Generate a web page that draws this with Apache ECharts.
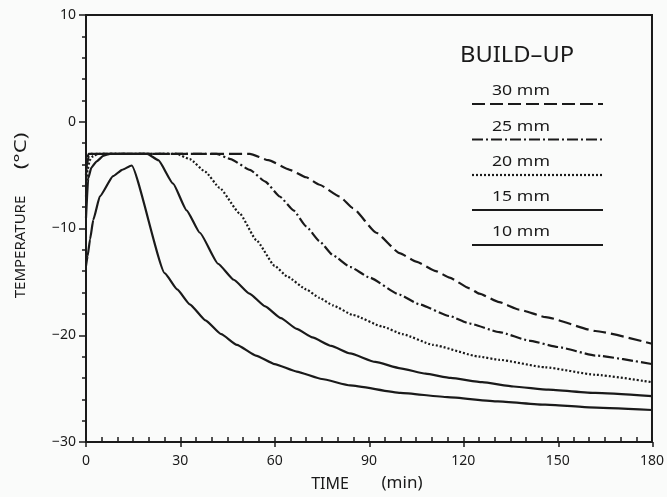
<!DOCTYPE html>
<html>
<head>
<meta charset="utf-8">
<script src="https://cdn.jsdelivr.net/npm/echarts@6/dist/echarts.min.js"></script>
<style>
  html, body { margin: 0; padding: 0; background: #fafbfa; }
  #chart { width: 667px; height: 497px; }
</style>
</head>
<body>
<div id="chart"></div>
<script>
// Temperature (°C) against time (min) for five ice build-up thicknesses.
const build30 = [[0,-5],[0.3,-3.5],[0.8,-3.0],[52.1,-3.0],[58,-3.6],[64.8,-4.5],[70,-5.2],[74.3,-5.9],[80.6,-7.0],[84.9,-8.1],[92.3,-10.4],[99.7,-12.3],[105,-13.1],[111.3,-14.0],[115.6,-14.6],[121.9,-15.6],[125.1,-16.1],[131.4,-16.9],[137.8,-17.6],[146.2,-18.3],[162,-19.6],[180,-20.8]];
const build25 = [[0,-6],[0.3,-4],[0.8,-3.3],[1.5,-3.0],[41.5,-3.0],[46,-3.5],[52.1,-4.5],[57,-5.6],[61.6,-7.0],[66,-8.3],[70,-9.8],[74.3,-11.2],[78.5,-12.5],[84,-13.6],[90.2,-14.6],[99.7,-16.2],[106,-17.1],[115.6,-18.2],[121.9,-18.9],[131.4,-19.7],[140.9,-20.5],[150,-21.1],[162,-21.9],[180,-22.7]];
const build20 = [[0,-7],[0.5,-4.5],[1.2,-3.6],[2.3,-3.2],[4,-3.0],[28.8,-3.0],[33,-3.5],[38,-4.7],[42.5,-6.2],[48.9,-8.6],[54.2,-11.1],[60,-13.5],[64,-14.5],[70,-15.7],[74.3,-16.5],[78.5,-17.2],[84.9,-18.1],[94.4,-19.2],[100.7,-19.9],[110.3,-20.9],[125,-22.0],[131.4,-22.3],[146,-23.0],[162,-23.7],[180,-24.4]];
const build15 = [[0,-9],[0.7,-5.3],[1.7,-4.3],[3.4,-3.7],[5.5,-3.2],[7.6,-3.0],[19.5,-3.0],[23,-3.6],[27.7,-5.8],[32,-8.3],[36.2,-10.4],[42,-13.3],[47,-14.8],[52,-16.1],[57,-17.3],[62,-18.4],[67,-19.4],[72,-20.2],[78,-21.0],[84,-21.7],[92,-22.5],[100,-23.1],[108,-23.6],[116,-24.0],[126,-24.4],[136,-24.8],[147,-25.1],[162,-25.4],[180,-25.7]];
const build10 = [[0,-13.5],[0.5,-12.6],[1.3,-11.0],[2.3,-9.2],[4.4,-7.0],[8.6,-5.1],[11.5,-4.5],[14.5,-4.1],[25.1,-14.2],[29,-15.7],[33,-17.1],[38,-18.6],[43,-19.9],[48,-20.9],[54,-21.9],[60,-22.7],[67,-23.4],[75,-24.1],[84,-24.7],[100,-25.4],[115,-25.8],[131,-26.2],[146,-26.5],[160,-26.75],[180,-27.0]];

const seriesNames = ['30 mm', '25 mm', '20 mm', '15 mm', '10 mm'];
const seriesData = [build30, build25, build20, build15, build10];

const INK = '#1a1a1a';
const FONT = 'Noto Sans';
const dashes = [[13, 5], [11, 3, 2, 3], [2, 2], null, null];

const chart = echarts.init(document.getElementById('chart'), null, { renderer: 'canvas' });

const gridRect = { left: 86, right: 14, top: 15, bottom: 55 };

const series = seriesData.map((d, i) => ({
  name: seriesNames[i],
  type: 'line',
  xAxisIndex: 0,
  yAxisIndex: 0,
  data: d,
  showSymbol: false,
  smooth: 0.15,
  smoothMonotone: 'x',
  lineStyle: { color: INK, width: 2.2, type: dashes[i] || 'solid' }
}));

// Legend block: title, then a caption above a line sample for each series
const legendX0 = 472, legendX1 = 603;
const legendLineY = [104, 139.5, 175, 210, 245];
const graphics = [
  { type: 'text', x: 460, y: 56, scaleX: 1.13,
    style: { text: 'BUILD–UP', font: '21px "' + FONT + '"', fill: INK, verticalAlign: 'middle' } }
];
seriesNames.forEach((n, i) => {
  graphics.push({ type: 'text', x: 492, y: legendLineY[i] - 13, scaleX: 1.18,
    style: { text: n, font: '15px "' + FONT + '"', fill: INK, verticalAlign: 'middle' } });
  graphics.push({ type: 'line', shape: { x1: legendX0, y1: legendLineY[i], x2: legendX1, y2: legendLineY[i] },
    style: { stroke: INK, lineWidth: 2.2, lineDash: dashes[i] || null } });
});
// Axis titles
graphics.push({ type: 'text', x: 21, y: 247, rotation: Math.PI / 2,
  style: { text: 'TEMPERATURE', font: '15px "' + FONT + '"', fill: INK, align: 'center', verticalAlign: 'middle' } });
graphics.push({ type: 'text', x: 21, y: 151, rotation: Math.PI / 2, scaleX: 1.3,
  style: { text: '(°C)', font: '17px "' + FONT + '"', fill: INK, align: 'center', verticalAlign: 'middle' } });
graphics.push({ type: 'text', x: 330, y: 484,
  style: { text: 'TIME', font: '16px "' + FONT + '"', fill: INK, align: 'center', verticalAlign: 'middle' } });
graphics.push({ type: 'text', x: 402, y: 483,
  style: { text: '(min)', font: '17px "' + FONT + '"', fill: INK, align: 'center', verticalAlign: 'middle' } });

const minus = v => String(v).replace('-', '−');

chart.setOption({
  backgroundColor: '#fafbfa',
  animation: false,
  grid: [
    Object.assign({ show: true, borderColor: INK, borderWidth: 2, backgroundColor: 'transparent' }, gridRect),
    Object.assign({}, gridRect)
  ],
  xAxis: [
    {
      gridIndex: 0, type: 'value', min: 0, max: 180, interval: 30,
      axisLine: { show: true, onZero: false, lineStyle: { color: INK, width: 2 } },
      axisTick: { show: true, inside: true, length: 5, lineStyle: { color: INK, width: 1.5 } },
      minorTick: { show: true, splitNumber: 6, length: 5, lineStyle: { color: INK, width: 1.5 } },
      axisLabel: { color: INK, fontFamily: FONT, fontSize: 14, margin: 12 },
      splitLine: { show: false }
    },
    {
      gridIndex: 1, type: 'value', min: 0, max: 180, interval: 30,
      axisLine: { show: false, onZero: false },
      axisTick: { show: true, inside: false, length: 5, lineStyle: { color: INK, width: 1.5 } },
      axisLabel: { show: false },
      splitLine: { show: false }
    }
  ],
  yAxis: [
    {
      gridIndex: 0, type: 'value', min: -30, max: 10, interval: 10,
      axisLine: { show: true, onZero: false, lineStyle: { color: INK, width: 2 } },
      axisTick: { show: true, inside: false, length: 7, lineStyle: { color: INK, width: 1.5 } },
      minorTick: { show: true, splitNumber: 5, length: 4, lineStyle: { color: INK, width: 1.5 } },
      axisLabel: { color: INK, fontFamily: FONT, fontSize: 14, margin: 10, formatter: minus },
      splitLine: { show: false }
    },
    {
      gridIndex: 1, type: 'value', min: -30, max: 10, interval: 10,
      show: false
    }
  ],
  series: series,
  graphic: graphics
});
</script>
</body>
</html>
